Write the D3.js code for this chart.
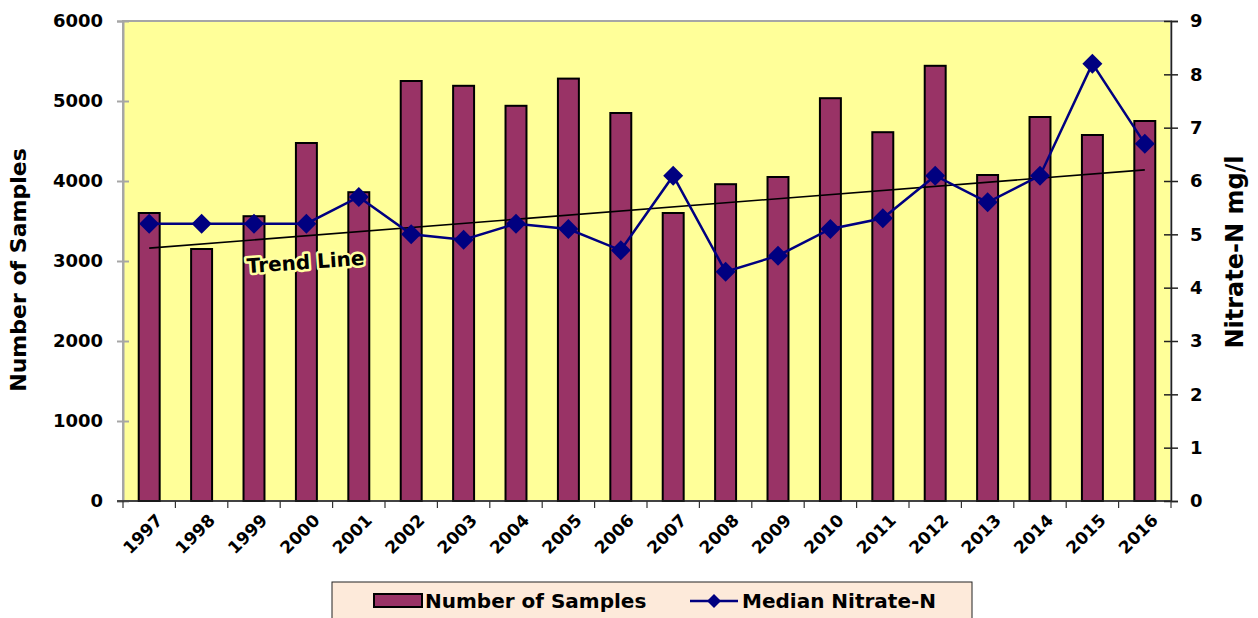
<!DOCTYPE html>
<html>
<head>
<meta charset="utf-8">
<script src="https://cdn.jsdelivr.net/npm/d3@7"></script>
<style>
  body { margin: 0; background: #fff; }
  text { font-family: "DejaVu Sans", sans-serif; font-weight: bold; }
</style>
</head>
<body>
<div id="chart"></div>
<script>
// data
const years = ["1997","1998","1999","2000","2001","2002","2003","2004","2005","2006",
               "2007","2008","2009","2010","2011","2012","2013","2014","2015","2016"];
const samples = [3600, 3150, 3560, 4475, 3860, 5250, 5190, 4940, 5280, 4850,
                 3600, 3960, 4050, 5035, 4610, 5440, 4075, 4800, 4575, 4750];
const nitrate = [5.2, 5.2, 5.2, 5.2, 5.7, 5.0, 4.9, 5.2, 5.1, 4.7,
                 6.1, 4.3, 4.6, 5.1, 5.3, 6.1, 5.6, 6.1, 8.2, 6.7];
const leftTicks = [0, 1000, 2000, 3000, 4000, 5000, 6000];
const rightTicks = [0, 1, 2, 3, 4, 5, 6, 7, 8, 9];

const W = 1258, H = 618;
const margin = {top: 21, right: 87, bottom: 117, left: 123};
const width = W - margin.left - margin.right,
      height = H - margin.top - margin.bottom;

const svg = d3.select("#chart").append("svg")
    .attr("width", W).attr("height", H);

const g = svg.append("g")
    .attr("transform", `translate(${margin.left},${margin.top})`);

const x = d3.scaleBand().domain(years).range([0, width]).paddingInner(0.6).paddingOuter(0.3);
const xc = d => x(d) + x.bandwidth() / 2;
const yL = d3.scaleLinear().domain([0, 6000]).range([height, 0]);
const yR = d3.scaleLinear().domain([0, 9]).range([height, 0]);

// plot area
g.append("rect")
    .attr("width", width).attr("height", height)
    .attr("fill", "#FFFF99")
    .attr("stroke", "#a6a6a6").attr("stroke-width", 2);

// bars
g.selectAll(".bar").data(years).enter().append("rect")
    .attr("x", d => x(d))
    .attr("y", (d, i) => yL(samples[i]))
    .attr("width", x.bandwidth())
    .attr("height", (d, i) => height - yL(samples[i]))
    .attr("fill", "#993366")
    .attr("stroke", "#000").attr("stroke-width", 2);

// linear trend of the nitrate series
const n = nitrate.length;
const mx = (n - 1) / 2, my = d3.mean(nitrate);
let sxy = 0, sxx = 0;
nitrate.forEach((v, i) => { sxy += (i - mx) * (v - my); sxx += (i - mx) * (i - mx); });
const slope = sxy / sxx, icpt = my - slope * mx;
g.append("line")
    .attr("x1", xc(years[0])).attr("y1", yR(icpt))
    .attr("x2", xc(years[n - 1])).attr("y2", yR(icpt + slope * (n - 1)))
    .attr("stroke", "#000").attr("stroke-width", 1.6);

// nitrate line
g.append("path")
    .datum(nitrate)
    .attr("fill", "none")
    .attr("stroke", "#000080").attr("stroke-width", 2.5)
    .attr("d", d3.line().x((d, i) => xc(years[i])).y(d => yR(d)));

g.selectAll(".dia").data(nitrate).enter().append("path")
    .attr("transform", (d, i) => `translate(${xc(years[i])},${yR(d)})`)
    .attr("d", "M0,-10L10,0L0,10L-10,0Z")
    .attr("fill", "#000080");

// trend label with a pale halo
const tlPos = `translate(${306 - margin.left},${269 - margin.top}) rotate(-4)`;
g.append("text")
    .attr("transform", tlPos)
    .attr("text-anchor", "middle")
    .style("font-size", "20px")
    .attr("fill", "#FFFFA0").attr("stroke", "#FFFFA0").attr("stroke-width", 5)
    .attr("stroke-linejoin", "round")
    .text("Trend Line");
g.append("text")
    .attr("transform", tlPos)
    .attr("text-anchor", "middle")
    .style("font-size", "20px")
    .attr("fill", "#000")
    .text("Trend Line");

// left axis
const axL = g.append("g")
    .call(d3.axisLeft(yL).tickValues(leftTicks).tickFormat(d3.format("d")).tickSize(6).tickPadding(14));
axL.select(".domain").attr("stroke", "#a6a6a6").attr("stroke-width", 2);
axL.selectAll(".tick line").attr("stroke", "#a6a6a6").attr("stroke-width", 2).attr("x2", 6).attr("x1", -6);
axL.selectAll("text").style("font-size", "18px").attr("fill", "#000");

// right axis
const axR = g.append("g")
    .attr("transform", `translate(${width},0)`)
    .call(d3.axisRight(yR).tickValues(rightTicks).tickSize(7).tickPadding(12));
axR.select(".domain").attr("stroke", "#222").attr("stroke-width", 1.5);
axR.selectAll(".tick line").attr("stroke", "#222").attr("stroke-width", 1.5).attr("x1", -7);
axR.selectAll("text").style("font-size", "18px").attr("fill", "#000");

// bottom axis: ticks at category boundaries
const axB = g.append("g").attr("transform", `translate(0,${height})`);
axB.append("line").attr("x1", -6).attr("x2", width).attr("stroke", "#222").attr("stroke-width", 1.5);
const step = x.step();
axB.selectAll(".bt").data(d3.range(years.length + 1)).enter().append("line")
    .attr("x1", i => i * step).attr("x2", i => i * step)
    .attr("y1", 0).attr("y2", 7)
    .attr("stroke", "#333").attr("stroke-width", 1.2);
axB.selectAll(".xl").data(years).enter().append("text")
    .attr("transform", d => `translate(${xc(d) + 6},${12}) rotate(-45)`)
    .attr("text-anchor", "end")
    .attr("dy", "0.7em")
    .style("font-size", "17px")
    .text(d => d);

// axis titles
svg.append("text")
    .attr("transform", `translate(26,270) rotate(-90)`)
    .attr("text-anchor", "middle")
    .style("font-size", "22px")
    .text("Number of Samples");
svg.append("text")
    .attr("transform", `translate(1243,252) rotate(-90)`)
    .attr("text-anchor", "middle")
    .style("font-size", "24px")
    .text("Nitrate-N mg/l");

// legend
const lg = svg.append("g").attr("transform", "translate(332,582)");
lg.append("rect").attr("width", 640).attr("height", 40)
    .attr("fill", "#FDEADA").attr("stroke", "#222").attr("stroke-width", 1);
lg.append("rect").attr("x", 42).attr("y", 12).attr("width", 48).attr("height", 13)
    .attr("fill", "#993366").attr("stroke", "#000").attr("stroke-width", 2);
lg.append("text").attr("x", 93).attr("y", 26).style("font-size", "20px").text("Number of Samples");
lg.append("line").attr("x1", 358).attr("x2", 406).attr("y1", 19).attr("y2", 19)
    .attr("stroke", "#000080").attr("stroke-width", 2.5);
lg.append("path").attr("transform", "translate(382,19)")
    .attr("d", "M0,-7L7,0L0,7L-7,0Z").attr("fill", "#000080");
lg.append("text").attr("x", 410).attr("y", 26).style("font-size", "20px").text("Median Nitrate-N");
</script>
</body>
</html>
